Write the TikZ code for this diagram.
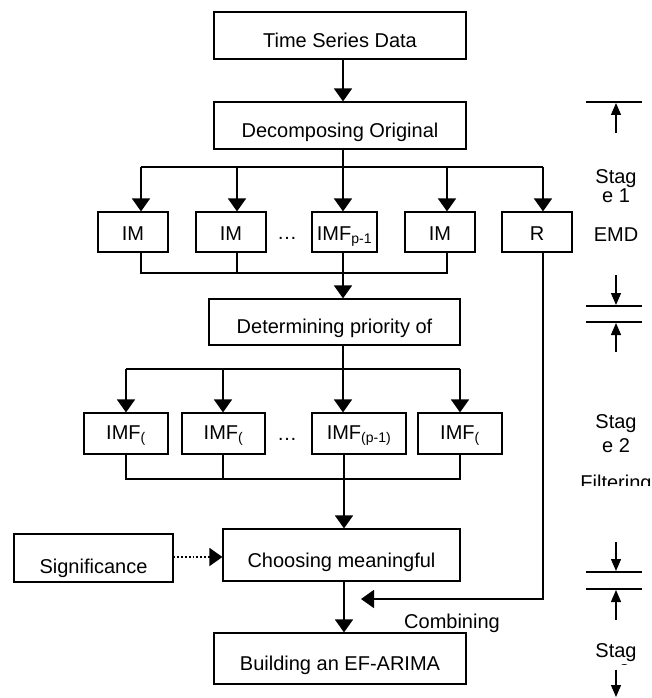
\documentclass[tikz,border=0pt]{standalone}
\usepackage{fontspec}
\setmainfont{Liberation Sans}
\usetikzlibrary{arrows.meta}
\newcommand{\fsz}{\fontsize{20}{24}\selectfont}

\begin{document}
\begin{tikzpicture}[x=1pt, y=-1pt, >={Triangle[length=13pt,width=18pt]},
  box/.style={draw, rectangle, line width=1.2pt, inner sep=0pt, text depth=0pt, text height=23pt, font=\fsz},
  imf/.style={box, minimum height=40pt, text height=16pt},
  link/.style={->, line width=1.8pt},
  bar/.style={line width=1.8pt},
  hint/.style={->, line width=1.8pt, dotted},
  tick/.style={line width=1.3pt},
  stagearrow/.style={line width=1.3pt, -{Triangle[length=12pt,width=10pt]}},
  note/.style={font=\fsz, inner sep=0pt, anchor=base}]
\useasboundingbox (0,0) rectangle (652,698);

% main column
\node[box, minimum width=252pt, minimum height=47pt, text height=25pt] (ts) at (340,35.5) {Time Series Data};
\node[box, minimum width=252pt, minimum height=47pt] (dec) at (340,125.5) {Decomposing Original};

% stage 1 outputs
\node[imf, minimum width=70pt] (imA) at (133,232) {IM};
\node[imf, minimum width=70pt] (imB) at (231,232) {IM};
\node[note] (dotsA) at (287,239) {\ldots};
\node[imf, minimum width=65pt] (imP) at (344.5,232) {IMF\textsubscript{p-1}};
\node[imf, minimum width=70pt] (imD) at (440,232) {IM};
\node[imf, minimum width=70pt] (res) at (537,232) {R};

\node[box, minimum width=251pt, minimum height=46pt, text height=22pt] (det) at (334.5,322) {Determining priority of};

% stage 2 outputs
\node[imf, minimum width=84pt, minimum height=41pt, text height=11pt] (ifA) at (126,433.5) {IMF\textsubscript{(}};
\node[imf, minimum width=83pt, minimum height=41pt, text height=11pt] (ifB) at (223.5,433.5) {IMF\textsubscript{(}};
\node[note] (dotsB) at (287,440) {\ldots};
\node[imf, minimum width=94pt, minimum height=41pt, text height=11pt] (ifP) at (359,433.5) {IMF\textsubscript{(p-1)}};
\node[imf, minimum width=84pt, minimum height=41pt, text height=11pt] (ifD) at (460,433.5) {IMF\textsubscript{(}};

\node[box, minimum width=159pt, minimum height=48pt, text height=30pt] (sig) at (93.5,558) {Significance};
\node[box, minimum width=237pt, minimum height=52pt, text height=24pt] (cho) at (341.5,555) {Choosing meaningful};
\node[box, minimum width=252pt, minimum height=51pt] (bld) at (340,658.5) {Building an EF-ARIMA};
\node[note] (comb) at (452,628) {Combining};

% branch and join points
\coordinate (b1) at (141,167);
\coordinate (b2) at (237,167);
\coordinate (b3) at (343,167);
\coordinate (b4) at (447,167);
\coordinate (b5) at (543,167);
\coordinate (j1) at (343,273);
\coordinate (c1) at (126,369);
\coordinate (c2) at (223,369);
\coordinate (c3) at (343,369);
\coordinate (c4) at (460,369);
\coordinate (j2) at (344,479);
\coordinate (rin) at (361,599);

\draw[link] (ts.south -| b3) -- (dec.north -| b3);
\draw[bar] (dec.south -| b3) -- (b3);
\draw[bar] (b1) -- (b5);
\draw[link] (b1) -- (b1 |- imA.north);
\draw[link] (b2) -- (b2 |- imB.north);
\draw[link] (b3) -- (b3 |- imP.north);
\draw[link] (b4) -- (b4 |- imD.north);
\draw[link] (b5) -- (b5 |- res.north);

\draw[bar] (imA.south -| b1) -- (b1 |- j1) -- (b4 |- j1) -- (imD.south -| b4);
\draw[bar] (imB.south -| b2) -- (b2 |- j1);
\draw[link] (imP.south -| b3) -- (det.north -| b3);

\draw[bar] (det.south -| c3) -- (c3);
\draw[bar] (c1) -- (c4);
\draw[link] (c1) -- (c1 |- ifA.north);
\draw[link] (c2) -- (c2 |- ifB.north);
\draw[link] (c3) -- (c3 |- ifP.north);
\draw[link] (c4) -- (c4 |- ifD.north);

\draw[bar] (ifA.south -| c1) -- (c1 |- j2) -- (c4 |- j2) -- (ifD.south -| c4);
\draw[bar] (ifB.south -| c2) -- (c2 |- j2);
\draw[link] (ifP.south -| j2) -- (cho.north -| j2);

\draw[hint] (sig.east |- 0,557) -- (cho.west |- 0,557);
\draw[link] (cho.south -| j2) -- (bld.north -| j2);
\draw[link] (res.south -| b5) |- (rin);

% stage markers
\draw[tick] (586,102) -- (642,102);
\draw[stagearrow] (616,133) -- (616,103);
\node[note] (st1a) at (616,183) {Stag};
\node[note] (st1b) at (616,202) {e 1};
\begin{scope}
  \clip (580,220) rectangle (652,240);
  \node[note] (st1c) at (616,241.5) {EMD};
\end{scope}
\draw[stagearrow] (616,275) -- (616,305);
\draw[tick] (586,306) -- (642,306);
\draw[tick] (586,322) -- (642,322);
\draw[stagearrow] (616,352) -- (616,323);

\node[note] (st2a) at (616,428) {Stag};
\node[note] (st2b) at (616,452) {e 2};
\begin{scope}
  \clip (575,470) rectangle (652,485);
  \node[note] (st2c) at (616,489) {Filtering};
\end{scope}
\draw[stagearrow] (616,542) -- (616,571);
\draw[tick] (586,572) -- (642,572);
\draw[tick] (586,589) -- (642,589);
\draw[stagearrow] (616,620) -- (616,590);

\node[note] (st3a) at (616,657) {Stag};
\begin{scope}
  \clip (575,662) rectangle (652,664.5);
  \node[note] (st3b) at (616,678) {e 3};
\end{scope}
\draw[stagearrow] (616,670) -- (616,697);
\end{tikzpicture}
\end{document}
